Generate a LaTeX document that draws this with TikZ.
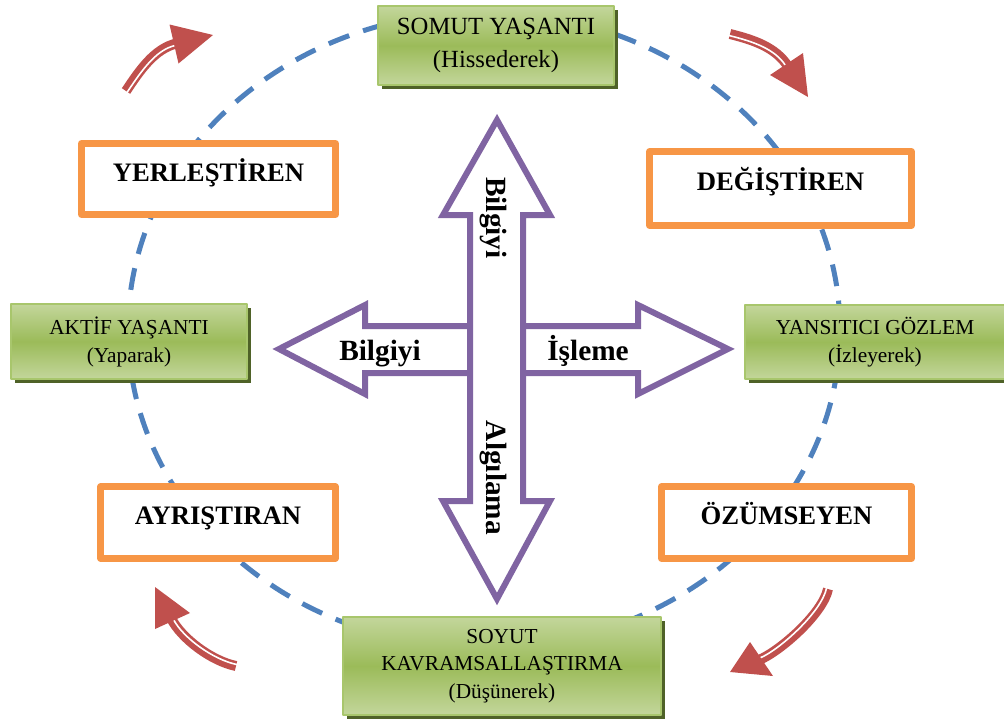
\documentclass[tikz,border=0pt]{standalone}
\usepackage{fontspec}
\setmainfont{Liberation Serif}
\usetikzlibrary{shadows}

\definecolor{cycleblue}{HTML}{4F81BD}
\definecolor{boxorange}{HTML}{F79646}
\definecolor{crosspurple}{HTML}{8064A2}
\definecolor{arrowred}{HTML}{C0504D}
\definecolor{glight}{HTML}{C3D69B}
\definecolor{gdark}{HTML}{9BBB59}
\definecolor{gedge}{HTML}{A8C66C}
\definecolor{gshadow}{HTML}{4F6228}

\begin{document}
\begin{tikzpicture}[line cap=round,line join=round,x=0.75pt,y=-0.75pt,
	greenbox/.style={draw=gedge, line width=1.5pt, top color=glight, bottom color=glight, middle color=gdark,
		general shadow={fill=gshadow, shadow xshift=3pt, shadow yshift=-3pt}, align=center, inner sep=0pt},
	learnerbox/.style={draw=boxorange, line width=5pt, fill=white, font=\bfseries\fontsize{20}{24}\selectfont,
		text height=14pt, text depth=11pt, inner sep=0pt},
	crossarrow/.style={draw=crosspurple, line width=4.5pt, fill=white, line join=miter},
	redband/.style={draw=arrowred, line width=7.5pt, line cap=butt},
	whitestripe/.style={draw=white, line width=1.2pt, line cap=butt},
	arrowlabel/.style={font=\bfseries\fontsize{22}{26}\selectfont, anchor=base}]
				\useasboundingbox (0,0) rectangle (1004,722);
				% dashed cycle
				\draw [cycleblue, line width=3.75pt, line cap=butt, dash pattern=on 16.5pt off 11pt] (484,330) ellipse [x radius=356, y radius=318];
				% purple cross: horizontal then vertical on top
				\draw [crossarrow] (279,349) -- (365,305) -- (365,326) -- (638,326) -- (638,305) -- (728,349) -- (638,394) -- (638,373) -- (365,373) -- (365,394) -- cycle;
				\draw [crossarrow] (497,120) -- (550,215) -- (523,215) -- (523,501) -- (550,501) -- (497,599) -- (443,501) -- (470,501) -- (470,215) -- (443,215) -- cycle;
				\node [arrowlabel, rotate=-90] (bilgiyiv) at (486,218) {Bilgiyi};
				\node [arrowlabel, rotate=-90] (algilama) at (486,478) {Algılama};
				\node [arrowlabel] (bilgiyih) at (380,360) {Bilgiyi};
				\node [arrowlabel] (isleme) at (588,360) {İşleme};
				% green stages
				\node [greenbox, minimum width=177pt, minimum height=59pt, font=\fontsize{18.5}{25}\selectfont] (somut) at (496,45.5) {SOMUT YAŞANTI\\(Hissederek)};
				\node [greenbox, minimum width=177pt, minimum height=56pt, font=\fontsize{16}{21}\selectfont] (aktif) at (129,341.5) {AKTİF YAŞANTI\\(Yaparak)};
				\node [greenbox, minimum width=195pt, minimum height=55.5pt, font=\fontsize{16}{21}\selectfont] (yansitici) at (875,342) {YANSITICI GÖZLEM\\(İzleyerek)};
				\node [greenbox, minimum width=238.5pt, minimum height=73.5pt, font=\fontsize{16}{20.5}\selectfont] (soyut) at (502,666) {SOYUT\\KAVRAMSALLAŞTIRMA\\(Düşünerek)};
				% orange learner types
				\node [learnerbox, minimum width=190.5pt, minimum height=53.5pt] (yerlestiren) at (208.5,179) {YERLEŞTİREN};
				\node [learnerbox, minimum width=196.5pt, minimum height=55.5pt] (degistiren) at (780.5,188.5) {DEĞİŞTİREN};
				\node [learnerbox, minimum width=176pt, minimum height=54pt] (ayristiran) at (218,522.5) {AYRIŞTIRAN};
				\node [learnerbox, minimum width=187.5pt, minimum height=54pt] (ozumseyen) at (786.5,522.5) {ÖZÜMSEYEN};
				% red turning arrows
				\draw [redband] (126,91) .. controls (139.9,70.2) and (154.5,48.5) .. (177,43.3);
				\draw [whitestripe, shift={(1.0,1.5)}] (126,91) .. controls (139.9,70.2) and (154.5,48.5) .. (174,44);
				\fill [arrowred] (213,35) -- (169.5,24.5) -- (178.5,63.5) -- cycle;
				\draw [redband] (730,34) .. controls (754,40) and (775.6,47.2) .. (788.1,66.5);
				\draw [whitestripe, shift={(-1.0,1.5)}] (730,34) .. controls (754,40) and (775.6,47.2) .. (786.5,64);
				\fill [arrowred] (808,97) -- (770,75) -- (803,53) -- cycle;
				\draw [redband] (236,666) .. controls (211.7,661) and (181.7,638.8) .. (171.1,618.3);
				\draw [whitestripe, shift={(1.1,-1.4)}] (236,666) .. controls (211.7,661) and (181.7,638.8) .. (172.5,621);
				\fill [arrowred] (155,587) -- (155,629) -- (190,613) -- cycle;
				\draw [redband] (828,589) .. controls (823,613.5) and (780,651.4) .. (758.7,660.1);
				\draw [whitestripe, shift={(-1.4,-1.1)}] (828,589) .. controls (823,613.5) and (780,651.4) .. (761.5,659);
				\fill [arrowred] (730,672) -- (750,642) -- (773,676) -- cycle;
\end{tikzpicture}
\end{document}
